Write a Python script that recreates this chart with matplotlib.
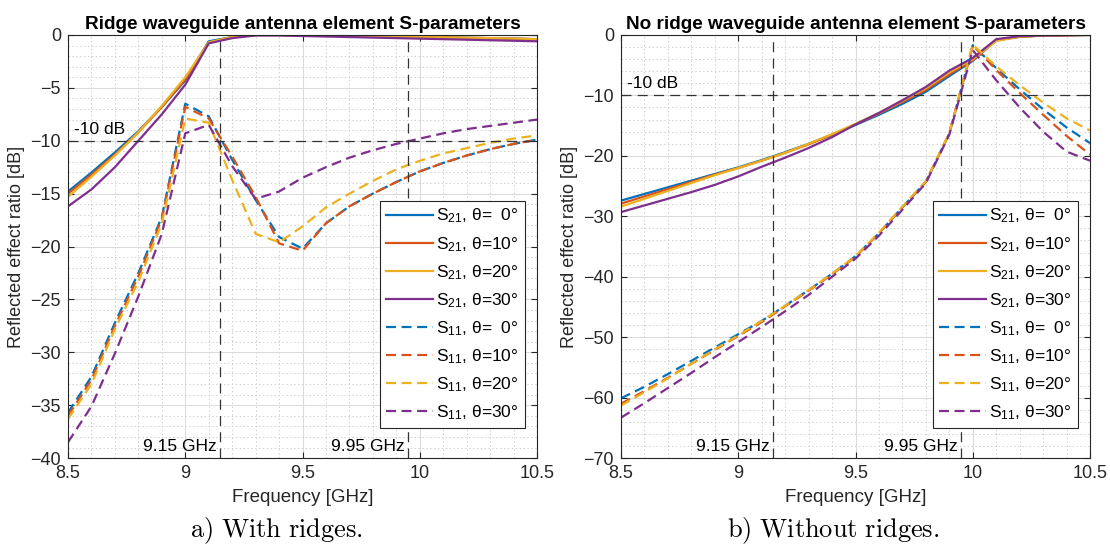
import numpy as np
import matplotlib
matplotlib.use("Agg")
import matplotlib.pyplot as plt
from matplotlib.ticker import MultipleLocator

plt.rcParams['font.family'] = ['Liberation Sans', 'DejaVu Sans']
plt.rcParams['mathtext.fontset'] = 'cm'

freq = np.round(np.arange(8.5, 10.51, 0.1), 2)
angles = ["  0", "10", "20", "30"]

# ---- with ridges (left) ----
ridge_s21 = [
    [-14.8, -13.0, -11.1, -9.1, -6.8, -4.3, -0.6, -0.2, 0.0, 0.0, -0.05, -0.08, -0.1, -0.13, -0.16, -0.2, -0.23, -0.27, -0.3, -0.35, -0.4],
    [-15.0, -13.2, -11.3, -9.2, -6.8, -4.2, -0.7, -0.2, 0.0, 0.0, -0.05, -0.08, -0.1, -0.13, -0.16, -0.2, -0.23, -0.27, -0.3, -0.35, -0.4],
    [-15.3, -13.4, -11.4, -9.2, -6.7, -4.0, -0.7, -0.2, 0.0, 0.0, -0.05, -0.08, -0.1, -0.13, -0.16, -0.2, -0.23, -0.27, -0.3, -0.35, -0.4],
    [-16.2, -14.6, -12.5, -10.0, -7.5, -4.7, -0.8, -0.3, -0.05, -0.05, -0.1, -0.15, -0.2, -0.25, -0.3, -0.35, -0.4, -0.45, -0.5, -0.55, -0.6],
]
ridge_s11 = [
    [-35.7, -32.3, -27.2, -22.5, -17.2, -6.5, -7.7, -11.8, -15.6, -19.1, -20.2, -17.8, -16.2, -15.0, -13.9, -12.9, -12.1, -11.4, -10.8, -10.3, -9.9],
    [-36.0, -32.6, -27.5, -22.8, -17.4, -6.8, -7.9, -11.5, -15.3, -19.7, -20.4, -17.8, -16.2, -15.0, -13.9, -12.9, -12.1, -11.4, -10.8, -10.3, -9.9],
    [-36.3, -33.0, -27.8, -23.3, -17.8, -7.9, -8.3, -13.7, -18.8, -19.6, -18.1, -16.3, -15.0, -13.8, -12.7, -11.9, -11.2, -10.7, -10.2, -9.8, -9.5],
    [-38.5, -35.1, -30.1, -24.7, -18.8, -9.3, -8.5, -12.4, -15.5, -14.8, -13.5, -12.5, -11.6, -10.9, -10.3, -9.8, -9.3, -8.9, -8.6, -8.3, -8.0],
]

# ---- without ridges (right) ----
plain_s21 = [
    [-27.4, -26.3, -25.2, -24.1, -23.0, -21.9, -20.7, -19.4, -18.0, -16.5, -14.9, -13.2, -11.4, -9.4, -6.8, -4.3, -0.8, -0.3, -0.1, -0.05, 0.0],
    [-27.9, -26.7, -25.5, -24.3, -23.1, -22.0, -20.8, -19.5, -18.1, -16.5, -14.8, -13.0, -11.1, -9.1, -6.5, -4.2, -0.9, -0.3, -0.1, -0.05, 0.0],
    [-28.4, -27.1, -25.8, -24.5, -23.2, -22.0, -20.8, -19.5, -18.0, -16.4, -14.7, -12.9, -10.9, -8.8, -6.2, -4.0, -1.0, -0.3, -0.1, -0.05, 0.0],
    [-29.3, -28.2, -27.1, -26.0, -24.8, -23.4, -21.8, -20.3, -18.7, -16.9, -14.8, -12.9, -10.8, -8.6, -5.9, -3.8, -0.7, -0.2, -0.1, -0.05, 0.0],
]
plain_s11 = [
    [-60.1, -58.2, -56.1, -53.9, -51.7, -49.5, -47.3, -44.8, -42.2, -39.5, -36.6, -32.8, -28.5, -24.3, -16.3, -1.7, -5.5, -9.0, -12.3, -15.3, -17.9],
    [-61.0, -58.9, -56.7, -54.4, -52.1, -49.8, -47.5, -44.9, -42.3, -39.6, -36.7, -32.8, -28.5, -24.3, -16.3, -1.7, -5.8, -9.6, -13.2, -16.7, -19.8],
    [-61.3, -59.1, -56.8, -54.4, -52.0, -49.7, -47.3, -44.8, -42.2, -39.5, -36.6, -32.7, -28.4, -24.2, -16.2, -1.6, -5.2, -8.3, -11.2, -13.8, -15.8],
    [-63.3, -60.9, -58.4, -55.9, -53.3, -50.8, -48.3, -45.7, -43.0, -40.0, -37.0, -33.2, -28.9, -24.5, -16.5, -2.5, -7.5, -12.0, -16.0, -19.3, -20.8],
]

colors = ['#0072BD', '#D95319', '#EDB120', '#7E2F8E']
axcol = '#262626'


def draw_panel(ax, s21, s11, title, ylim, ymajor, yminor, db_y, ghz_y):
    for i in range(4):
        ax.plot(freq, s21[i], color=colors[i], lw=1.6,
                label=r'$\mathregular{S_{21}}$, θ=' + angles[i] + '°')
    for i in range(4):
        ax.plot(freq, s11[i], color=colors[i], lw=1.6, ls=(0, (4.5, 2.5)),
                label=r'$\mathregular{S_{11}}$, θ=' + angles[i] + '°')
    # reference lines
    ax.axhline(-10, color='#333333', lw=0.9, ls=(0, (8, 5)))
    ax.axvline(9.15, color='#333333', lw=0.9, ls=(0, (8, 5)))
    ax.axvline(9.95, color='#333333', lw=0.9, ls=(0, (8, 5)))
    ax.text(8.525, -10 + db_y, '-10 dB', fontsize=12.5, color='black', va='bottom')
    ax.text(9.135, ghz_y, '9.15 GHz', fontsize=12.5, color='black', ha='right', va='bottom')
    ax.text(9.935, ghz_y, '9.95 GHz', fontsize=12.5, color='black', ha='right', va='bottom')

    ax.set_xlim(8.5, 10.5)
    ax.set_ylim(*ylim)
    ax.set_xticks([8.5, 9, 9.5, 10, 10.5])
    ax.set_xticklabels(['8.5', '9', '9.5', '10', '10.5'])
    ax.xaxis.set_minor_locator(MultipleLocator(0.1))
    ax.yaxis.set_major_locator(MultipleLocator(ymajor))
    ax.yaxis.set_minor_locator(MultipleLocator(yminor))
    ax.grid(True, which='major', color='#dcdcdc', lw=0.8)
    ax.grid(True, which='minor', color='#d0d0d0', lw=0.7, ls=(0, (1.5, 2.5)))
    ax.set_axisbelow(True)
    ax.tick_params(which='both', direction='in', top=True, right=True,
                   colors=axcol, labelsize=13, length=4, pad=5)
    ax.tick_params(which='minor', length=0)
    for s in ax.spines.values():
        s.set_color(axcol)
        s.set_linewidth(0.8)
    ax.set_xlabel('Frequency [GHz]', fontsize=13.5, color=axcol, labelpad=5)
    ax.set_ylabel('Reflected effect ratio [dB]', fontsize=13, color=axcol, labelpad=4)
    ax.set_title(title, fontsize=13.7, fontweight='bold', pad=4)
    leg = ax.legend(loc='lower right', bbox_to_anchor=(0.974, 0.071),
                    borderaxespad=0, fontsize=12.5, handlelength=2.7,
                    labelspacing=0.54, handletextpad=0.2, borderpad=0.35,
                    fancybox=False, framealpha=1, edgecolor=axcol)
    leg.get_frame().set_linewidth(0.8)


fig = plt.figure(figsize=(11.1, 5.46), dpi=100)
ax1 = fig.add_axes([0.0613, 0.161, 0.4225, 0.775])
ax2 = fig.add_axes([0.5595, 0.161, 0.4225, 0.775])

draw_panel(ax1, ridge_s21, ridge_s11, 'Ridge waveguide antenna element S-parameters',
           (-40, 0), 5, 1, 0.4, -39.6)
draw_panel(ax2, plain_s21, plain_s11, 'No ridge waveguide antenna element S-parameters',
           (-70, 0), 10, 2, 0.7, -69.3)

fig.text(0.249, 0.016, r'$\mathrm{a)\ With\ ridges.}$', fontsize=19, ha='center', va='baseline')
fig.text(0.751, 0.016, r'$\mathrm{b)\ Without\ ridges.}$', fontsize=19, ha='center', va='baseline')

fig.savefig('out.png', dpi=100)
